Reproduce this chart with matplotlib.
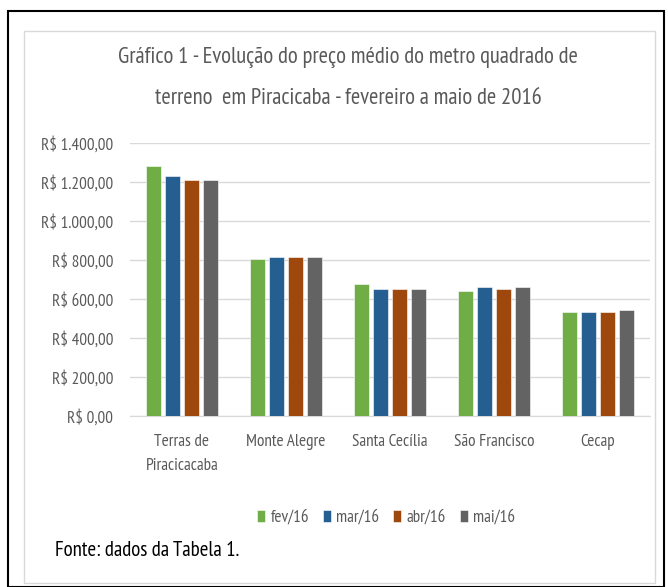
import matplotlib
matplotlib.use('Agg')
from matplotlib import pyplot as plt, ticker
from matplotlib.patches import Rectangle
import numpy as np

plt.rcParams['font.family'] = ['PT Sans Narrow', 'DejaVu Sans']

categories = ['Terras de\nPiracicacaba', 'Monte Alegre', 'Santa Cecília', 'São Francisco', 'Cecap']
series_names = ['fev/16', 'mar/16', 'abr/16', 'mai/16']
fev = [1284, 804, 679, 641, 533]
mar = [1229, 814, 651, 662, 533]
abr = [1210, 814, 651, 651, 533]
mai = [1210, 814, 651, 662, 542]
yticks = [0, 200, 400, 600, 800, 1000, 1200, 1400]

colors = ['#70AD47', '#255E91', '#9E480E', '#636363']
text_grey = '#595959'

fig = plt.figure(figsize=(6.68, 5.87), dpi=100)

# outer black frame and inner chart-area border
fig.patches.append(Rectangle((8 / 668, 0), 656 / 668, 1 - 11 / 587, transform=fig.transFigure,
                             fill=False, edgecolor='black', linewidth=1.5))
fig.patches.append(Rectangle((24 / 668, 4 / 587), 631 / 668, 1 - 35 / 587, transform=fig.transFigure,
                             fill=False, edgecolor='#D9D9D9', linewidth=1))

ax = fig.add_axes([130 / 668, 1 - 416 / 587, 520 / 668, 273 / 587])

x = np.arange(len(categories))
step = 0.18
width = 0.145
for i, (vals, name) in enumerate(zip([fev, mar, abr, mai], series_names)):
    ax.bar(x + (i - 1.5) * step, vals, width, color=colors[i], label=name,
           edgecolor='white', linewidth=0.4, zorder=3)

ax.set_xlim(-0.5, len(categories) - 0.5)
ax.set_ylim(0, 1400)
ax.set_yticks(yticks)
ax.yaxis.set_major_formatter(ticker.FuncFormatter(
    lambda v, p: 'R$ ' + '{:,.2f}'.format(v).replace(',', 'X').replace('.', ',').replace('X', '.')))
ax.set_xticks(x)
ax.set_xticklabels(categories, color=text_grey, fontsize=12.3, linespacing=1.7)
ax.tick_params(axis='y', length=0, pad=12, labelcolor=text_grey, labelsize=12.3)
ax.tick_params(axis='x', length=0, pad=13)
ax.grid(axis='y', color='#D9D9D9', linewidth=1, zorder=0)
for s in ['top', 'right', 'left']:
    ax.spines[s].set_visible(False)
ax.spines['bottom'].set_color('#D9D9D9')

fig.text(348 / 668, 1 - 58 / 587, 'Gráfico 1 - Evolução do preço médio do metro quadrado de',
         ha='center', va='center', fontsize=16.3, color=text_grey)
fig.text(348 / 668, 1 - 98 / 587, 'terreno  em Piracicaba - fevereiro a maio de 2016',
         ha='center', va='center', fontsize=16.3, color=text_grey)

ax.legend(loc='center', bbox_to_anchor=(386 / 668, 1 - 518 / 587), bbox_transform=fig.transFigure,
          ncol=4, frameon=False, fontsize=12.3, handlelength=0.5, handleheight=0.7,
          handletextpad=0.3, columnspacing=0.8, labelcolor=text_grey)

fig.text(55 / 668, 1 - 551 / 587, 'Fonte: dados da Tabela 1.', ha='left', va='center',
         fontsize=15, color='black')

plt.savefig('out.png', dpi=100)
